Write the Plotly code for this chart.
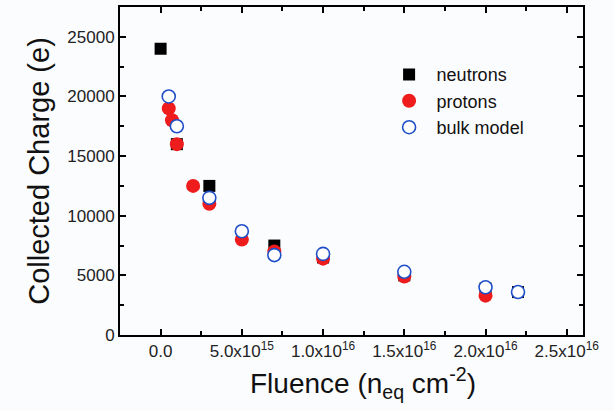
import plotly.graph_objects as go

# Fluence (n_eq cm^-2) and collected charge (electrons)
neutron_fluence = [0.0, 1e15, 3e15, 7e15, 1e16, 1.5e16, 2e16, 2.2e16]
neutron_charge = [24000, 16000, 12500, 7500, 6500, 5000, 3900, 3600]

proton_fluence = [5e14, 7e14, 1e15, 2e15, 3e15, 5e15, 7e15, 1e16, 1.5e16, 2e16]
proton_charge = [19000, 18000, 16000, 12500, 11000, 8000, 7000, 6400, 4900, 3300]

model_fluence = [5e14, 1e15, 3e15, 5e15, 7e15, 1e16, 1.5e16, 2e16, 2.2e16]
model_charge = [20000, 17500, 11500, 8700, 6700, 6800, 5300, 4000, 3600]

x_tickvals = [0.0, 5e15, 1e16, 1.5e16, 2e16, 2.5e16]
x_ticktext = ["0.0", "5.0x10<sup>15</sup>", "1.0x10<sup>16</sup>",
              "1.5x10<sup>16</sup>", "2.0x10<sup>16</sup>", "2.5x10<sup>16</sup>"]

font_family = "Liberation Sans, Arial, sans-serif"

fig = go.Figure()
fig.add_trace(go.Scatter(
    x=neutron_fluence, y=neutron_charge, mode="markers", name="neutrons",
    marker=dict(symbol="square", size=12, color="#000000", line=dict(width=0)),
))
fig.add_trace(go.Scatter(
    x=proton_fluence, y=proton_charge, mode="markers", name="protons",
    marker=dict(symbol="circle", size=14, color="#ee1c1c", line=dict(width=0)),
))
fig.add_trace(go.Scatter(
    x=model_fluence, y=model_charge, mode="markers", name="bulk model",
    marker=dict(symbol="circle", size=13, color="white",
                line=dict(width=1.6, color="#1f4fc8")),
))

axis_common = dict(
    showline=True, linecolor="black", linewidth=2, mirror="allticks",
    ticks="inside", ticklen=6, tickwidth=1.5, tickcolor="black",
    showgrid=False, zeroline=False,
    tickfont=dict(family=font_family, size=17, color="#222222"),
)

fig.update_xaxes(
    range=[-2.5e15, 2.6e16], tickvals=x_tickvals, ticktext=x_ticktext,
    minor=dict(ticks="inside", ticklen=4, tickwidth=1.5, tickcolor="black",
               tickvals=[2.5e15, 7.5e15, 1.25e16, 1.75e16, 2.25e16]),
    **axis_common,
)
fig.update_yaxes(
    range=[0, 27500], tick0=0, dtick=5000, tickformat="d",
    minor=dict(ticks="inside", ticklen=4, tickwidth=1.5, tickcolor="black", dtick=2500),
    title=dict(text="Collected Charge (e)",
               font=dict(family=font_family, size=29, color="#111111"), standoff=9),
    **axis_common,
)

# x-axis title, set slightly right of the plot centre
fig.add_annotation(
    text="Fluence (n<sub>eq</sub> cm<sup>-2</sup>)",
    xref="paper", yref="paper", x=0.525, y=-0.078,
    xanchor="center", yanchor="top", showarrow=False,
    font=dict(family=font_family, size=28, color="#111111"),
)

fig.update_layout(
    width=614, height=411,
    margin=dict(l=120, r=31, t=5, b=76),
    paper_bgcolor="#fbfcfe", plot_bgcolor="#fbfcfe",
    showlegend=True,
    legend=dict(x=0.565, y=0.85, xanchor="left", yanchor="top",
                bgcolor="rgba(0,0,0,0)", borderwidth=0,
                font=dict(family=font_family, size=18, color="#111111"),
                itemwidth=45),
)

fig.write_html("out.html")
